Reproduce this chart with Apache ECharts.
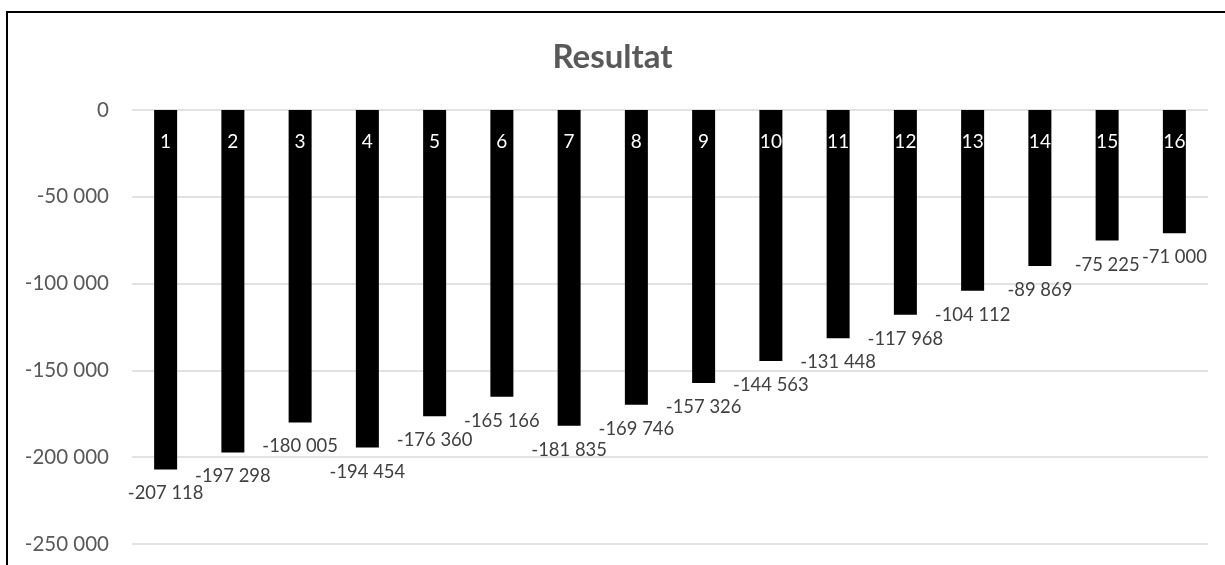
<!DOCTYPE html>
<html>
<head>
<meta charset="utf-8">
<title>Resultat</title>
<script src="https://cdn.jsdelivr.net/npm/echarts@6/dist/echarts.min.js"></script>
<style>
  html, body { margin: 0; padding: 0; background: #ffffff; }
  #chart { width: 1225px; height: 565px; }
</style>
</head>
<body>
<div id="chart"></div>
<script>
// Periods and the result for each period
const categories = ['1', '2', '3', '4', '5', '6', '7', '8', '9', '10', '11', '12', '13', '14', '15', '16'];
const resultat = [-207118, -197298, -180005, -194454, -176360, -165166, -181835, -169746,
                  -157326, -144563, -131448, -117968, -104112, -89869, -75225, -71000];
const yMin = -250000;
const yMax = 0;
const yStep = 50000;

// Thousands grouped with a space, e.g. -207 118
function fmt(v) {
  const s = Math.abs(Math.round(v)).toString().replace(/\B(?=(\d{3})+(?!\d))/g, ' ');
  return (v < 0 ? '-' : '') + s;
}

const FONT = 'Lato, "Open Sans", sans-serif';
const chart = echarts.init(document.getElementById('chart'), null, { renderer: 'canvas' });

chart.setOption({
  backgroundColor: '#ffffff',
  animation: false,
  title: {
    text: 'Resultat',
    left: 'center',
    top: 36,
    textStyle: { fontFamily: FONT, fontSize: 33, fontWeight: 'bold', color: '#595959' }
  },
  graphic: [{
    type: 'rect',
    shape: { x: 7, y: 12, width: 1400, height: 800 },
    style: { fill: 'none', stroke: '#000000', lineWidth: 2 },
    silent: true,
    z: 100
  }],
  grid: { left: 132, right: 17, top: 110, bottom: 21, containLabel: false },
  xAxis: {
    type: 'category',
    data: categories,
    position: 'top',
    axisLine: { show: false },
    axisTick: { show: false },
    splitLine: { show: false },
    axisLabel: {
      inside: true,
      margin: 32,
      verticalAlign: 'middle',
      color: '#ffffff',
      fontFamily: FONT,
      fontSize: 19
    },
    z: 10
  },
  yAxis: {
    type: 'value',
    min: yMin,
    max: yMax,
    interval: yStep,
    axisLine: { show: false },
    axisTick: { show: false },
    splitLine: { lineStyle: { color: '#d9d9d9', width: 1.5 } },
    axisLabel: {
      margin: 23,
      color: '#595959',
      fontFamily: FONT,
      fontSize: 20.5,
      formatter: fmt
    }
  },
  series: [{
    type: 'bar',
    data: resultat,
    barWidth: 23,
    itemStyle: { color: '#000000' },
    label: {
      show: true,
      position: 'bottom',
      distance: 15,
      color: '#404040',
      fontFamily: FONT,
      fontSize: 18.4,
      formatter: p => fmt(p.value)
    }
  }]
});
</script>
</body>
</html>
